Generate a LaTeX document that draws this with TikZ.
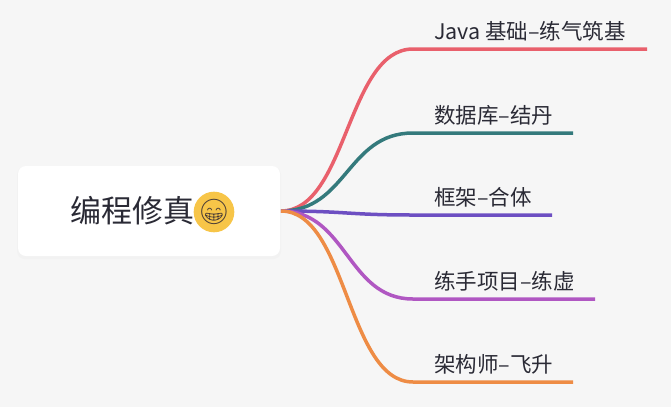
\documentclass[tikz,border=0pt]{standalone}
\usepackage{fontspec}
\newfontfamily\cjk{Noto Sans CJK SC}
\newfontfamily\emojifont{Noto Emoji}
\usetikzlibrary{positioning,calc}
\definecolor{bgc}{HTML}{F6F6F6}
\definecolor{txt}{HTML}{2A2A35}
\definecolor{redb}{HTML}{E9606C}
\definecolor{tealb}{HTML}{347A7C}
\definecolor{violetb}{HTML}{6D4FC2}
\definecolor{magb}{HTML}{B057C2}
\definecolor{orangeb}{HTML}{EE8C45}
\definecolor{emoy}{HTML}{F7C548}

\begin{document}
\begin{tikzpicture}[x=1pt,y=-1pt,
	branch/.style={line width=3.5pt},
	leaf/.style={anchor=base west,inner sep=0pt,text=txt,font=\cjk\fontsize{21.5}{21.5}\selectfont}]
	\fill[bgc] (0,0) rectangle (671,407);
	\useasboundingbox (0,0) rectangle (671,407);
	% central box
	\fill[black!5,rounded corners=8pt] (17,167) rectangle (281,259);
	\fill[white,rounded corners=8pt] (18,166) rectangle (280,256);
	\node[inner sep=0pt,text=txt,font=\cjk\fontsize{31}{31}\selectfont,anchor=west] (root) at (70,211) {编程修真};
	\node[circle,fill=emoy,inner sep=0pt,minimum size=28pt,text=txt!80!brown,font=\emojifont\fontsize{25}{25}\selectfont] (emo) at (214,212) {😁};
	\coordinate (o) at (281,211);
	% branches
	\coordinate (j1) at (413,49);  \coordinate (e1) at (647,49);
	\coordinate (j2) at (413,133); \coordinate (e2) at (573,133);
	\coordinate (j3) at (413,215); \coordinate (e3) at (552,215);
	\coordinate (j4) at (413,299); \coordinate (e4) at (595,299);
	\coordinate (j5) at (413,382); \coordinate (e5) at (573,382);
	\draw[branch,redb] (o) .. controls +(66,0) and +(-66,0) .. (j1) -- (e1);
	\draw[branch,tealb] (o) .. controls +(66,0) and +(-66,0) .. (j2) -- (e2);
	\draw[branch,violetb] (o) .. controls +(66,0) and +(-66,0) .. (j3) -- (e3);
	\draw[branch,magb] (o) .. controls +(66,0) and +(-66,0) .. (j4) -- (e4);
	\draw[branch,orangeb] (o) .. controls +(66,0) and +(-66,0) .. (j5) -- (e5);
	% labels
	\node[leaf] (t1) at ($(j1)+(21,-10)$) {Java 基础–练气筑基};
	\node[leaf] (t2) at ($(j2)+(21,-10)$) {数据库–结丹};
	\node[leaf] (t3) at ($(j3)+(21,-10)$) {框架–合体};
	\node[leaf] (t4) at ($(j4)+(21,-10)$) {练手项目–练虚};
	\node[leaf] (t5) at ($(j5)+(21,-10)$) {架构师–飞升};
\end{tikzpicture}
\end{document}
